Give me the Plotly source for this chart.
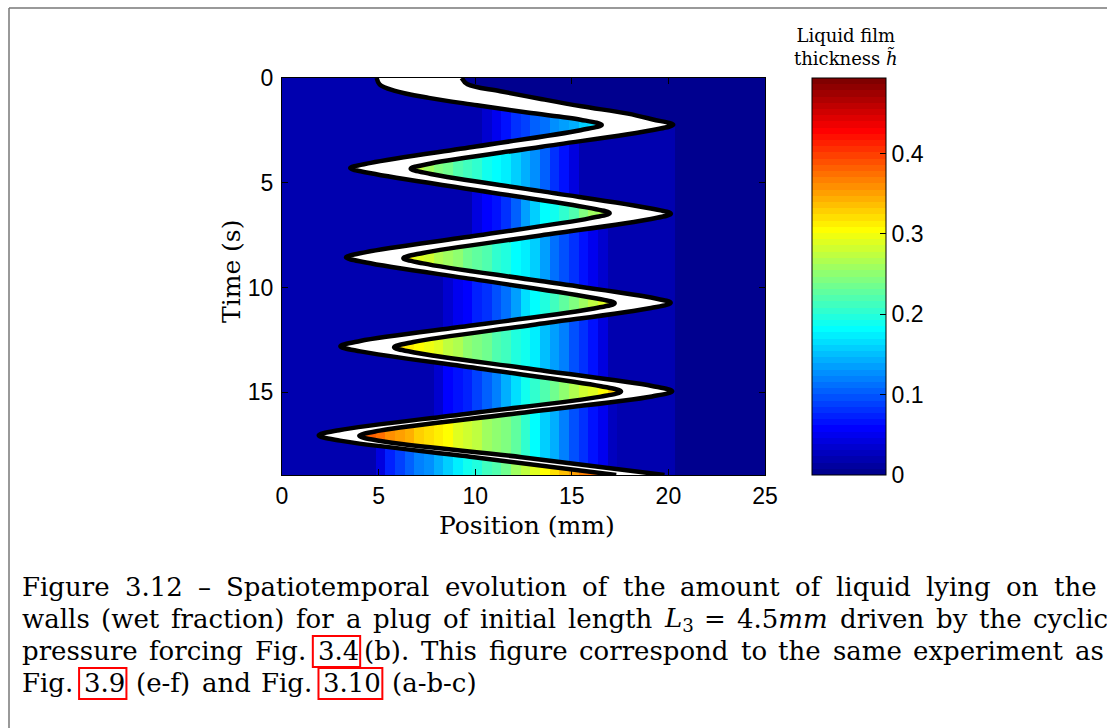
import numpy as np
import plotly.graph_objects as go

# ---------------- data ----------------
# Rear (left) meniscus trajectory: time (s), position (mm)
rear_t = [0.00, 0.30, 0.60, 0.95, 1.30, 1.65, 1.99, 2.24, 2.49, 3.27, 4.05, 4.30, 4.55, 5.38, 6.20, 6.45,
          6.70, 7.52, 8.31, 8.56, 8.81, 9.66, 10.50, 10.75, 11.00, 11.78, 12.55, 12.80, 13.05, 13.88,
          14.71, 14.96, 15.21, 16.01, 16.81, 17.06, 17.31, 18.10, 18.95]
rear_x = [4.90, 5.05, 5.80, 7.60, 10.10, 12.70, 15.45, 16.55, 15.45, 10.03, 4.60, 3.53, 4.60, 10.25, 15.90, 16.96,
          15.90, 10.10, 4.35, 3.31, 4.35, 10.30, 16.15, 17.22, 16.15, 10.10, 4.05, 3.02, 4.05, 10.30,
          16.50, 17.55, 16.50, 9.70, 2.95, 1.90, 3.00, 9.95, 17.30]
# Front (right) meniscus trajectory
front_t = [0.00, 0.30, 0.63, 1.00, 1.35, 1.70, 1.98, 2.23, 2.48, 3.28, 4.08, 4.33, 4.58, 5.40, 6.23, 6.48,
           6.73, 7.54, 8.35, 8.60, 8.85, 9.67, 10.48, 10.73, 10.98, 11.79, 12.60, 12.85, 13.10, 13.90,
           14.70, 14.95, 15.20, 16.01, 16.83, 17.08, 17.33, 18.10, 18.95]
front_x = [9.30, 9.60, 11.30, 13.40, 15.50, 17.90, 19.20, 20.25, 19.20, 13.45, 7.70, 6.66, 7.70, 13.40, 19.10, 20.13,
           19.10, 13.20, 7.30, 6.28, 7.30, 13.20, 19.10, 20.12, 19.10, 12.95, 6.80, 5.80, 6.85, 13.00,
           19.15, 20.20, 19.15, 12.10, 5.05, 4.00, 5.10, 12.40, 19.80]

# turning times that start a new deposit
rear_left_turns = [4.30, 8.56, 12.80, 17.06]
front_right_turns = [2.23, 6.48, 10.73, 14.95]

# film thickness columns (cell centres, mm)
x_cols = [0.1, 0.6, 1.1, 1.6, 2.1, 2.6, 3.1, 3.6, 4.1, 4.6, 5.1, 5.6, 6.1, 6.6, 7.1, 7.6, 8.1, 8.6, 9.1, 9.6,
          10.1, 10.6, 11.1, 11.6, 12.1, 12.6, 13.1, 13.6, 14.1, 14.6, 15.1, 15.6, 16.1, 16.6, 17.1, 17.6,
          18.1, 18.6, 19.1, 19.6, 20.1, 20.6, 21.1, 21.6, 22.1, 22.6, 23.1, 23.6, 24.1, 24.6, 25.1]
BG = 0.02
# film left behind the rear meniscus during each rightward stroke
rear_film_0 = [BG]*21 + [0.032, 0.050, 0.065, 0.080, 0.092, 0.102, 0.112, 0.124, 0.135, 0.145, 0.155, 0.165,
                         0.172] + [BG]*17
rear_film_1 = [BG]*20 + [0.040, 0.055, 0.068, 0.083, 0.105, 0.135, 0.158, 0.178, 0.192, 0.207, 0.223, 0.242,
                         0.257, 0.270, 0.280] + [BG]*16
rear_film_2 = [BG]*17 + [0.035, 0.048, 0.060, 0.070, 0.078, 0.093, 0.113, 0.138, 0.163, 0.182, 0.197, 0.212,
                         0.227, 0.242, 0.257, 0.272, 0.287, 0.298] + [BG]*16
rear_film_3 = [BG]*16 + [0.038, 0.055, 0.065, 0.075, 0.090, 0.105, 0.123, 0.145, 0.168, 0.187, 0.203, 0.218,
                         0.233, 0.248, 0.263, 0.278, 0.293, 0.308, 0.325, 0.340] + [BG]*15
rear_film_4 = [BG]*10 + [0.045, 0.070, 0.088, 0.103, 0.117, 0.130, 0.145, 0.162, 0.177, 0.188, 0.197, 0.210,
                         0.222, 0.238, 0.256, 0.275, 0.292, 0.305, 0.318, 0.333, 0.352, 0.365, 0.377, 0.387,
                         0.395, 0.400] + [BG]*15
# film left behind the front meniscus during each leftward stroke
front_film_0 = [0.0]*51
front_film_1 = [0.290]*14 + [0.272, 0.258, 0.245, 0.234, 0.223, 0.212, 0.201, 0.192, 0.183, 0.172, 0.160, 0.143,
                             0.125, 0.103, 0.083, 0.065, 0.045] + [BG]*10 + [0.0]*10
front_film_2 = [0.315]*13 + [0.305, 0.292, 0.280, 0.268, 0.257, 0.247, 0.238, 0.229, 0.219, 0.208, 0.197, 0.185,
                             0.172, 0.156, 0.135, 0.114, 0.095, 0.080, 0.065, 0.050, 0.032] + [BG]*7 + [0.0]*10
front_film_3 = [0.320]*12 + [0.318, 0.313, 0.305, 0.297, 0.288, 0.277, 0.265, 0.254, 0.243, 0.232, 0.221, 0.211,
                             0.200, 0.188, 0.171, 0.153, 0.135, 0.120, 0.100, 0.078, 0.063, 0.043] + [BG]*7 + [0.0]*10
front_film_4 = [0.395]*9 + [0.385, 0.372, 0.362, 0.352, 0.342, 0.330, 0.320, 0.312, 0.303, 0.293, 0.283, 0.272,
                            0.262, 0.251, 0.240, 0.224, 0.203, 0.182, 0.160, 0.140, 0.120, 0.100, 0.082, 0.065,
                            0.048, 0.030] + [BG]*6 + [0.0]*10

x_ticks = [0, 5, 10, 15, 20, 25]
t_ticks = [0, 5, 10, 15]
cbar_ticks = [0, 0.1, 0.2, 0.3, 0.4]
H_MAX = 0.494
T_END = 18.95

# caption: tokens (html, plain text for width, boxed reference, glued to previous token)
caption_lines = [
    [("Figure", "Figure", 0, 0), ("3.12", "3.12", 0, 0), ("\u2013", "\u2013", 0, 0),
     ("Spatiotemporal", "Spatiotemporal", 0, 0), ("evolution", "evolution", 0, 0), ("of", "of", 0, 0),
     ("the", "the", 0, 0), ("amount", "amount", 0, 0), ("of", "of", 0, 0), ("liquid", "liquid", 0, 0),
     ("lying", "lying", 0, 0), ("on", "on", 0, 0), ("the", "the", 0, 0)],
    [("walls", "walls", 0, 0), ("(wet", "(wet", 0, 0), ("fraction)", "fraction)", 0, 0), ("for", "for", 0, 0),
     ("a", "a", 0, 0), ("plug", "plug", 0, 0), ("of", "of", 0, 0), ("initial", "initial", 0, 0),
     ("length", "length", 0, 0), ("<i>L</i><sub>3</sub>", "L_", 0, 0), ("=", "=", 0, 0),
     ("4.5<i>mm</i>", "4.5mm", 0, 0), ("driven", "driven", 0, 0), ("by", "by", 0, 0), ("the", "the", 0, 0),
     ("cyclic", "cyclic", 0, 0)],
    [("pressure", "pressure", 0, 0), ("forcing", "forcing", 0, 0), ("Fig.", "Fig.", 0, 0), ("3.4", "3.4", 1, 0),
     ("(b).", "(b).", 0, 1), ("This", "This", 0, 0), ("figure", "figure", 0, 0),
     ("correspond", "correspond", 0, 0), ("to", "to", 0, 0), ("the", "the", 0, 0), ("same", "same", 0, 0),
     ("experiment", "experiment", 0, 0), ("as", "as", 0, 0)],
    [("Fig.", "Fig.", 0, 0), ("3.9", "3.9", 1, 0), ("(e-f)", "(e-f)", 0, 0), ("and", "and", 0, 0),
     ("Fig.", "Fig.", 0, 0), ("3.10", "3.10", 1, 0), ("(a-b-c)", "(a-b-c)", 0, 0)],
]
caption_y = [587, 619, 651, 683]
caption_last_x = [1052, 1031, 1073, None]   # justified lines: left edge of last word
CAP_SIZE = 26

# ---------------- build the field ----------------
rear_films = [rear_film_0, rear_film_1, rear_film_2, rear_film_3, rear_film_4]
front_films = [front_film_0, front_film_1, front_film_2, front_film_3, front_film_4]
t_rows = np.arange(0.025, T_END, 0.05)
xc = np.array(x_cols)
z = []
for t in t_rows:
    k = int(np.searchsorted(rear_left_turns, t, side="right"))
    m = int(np.searchsorted(front_right_turns, t, side="right"))
    mid = 0.5 * (np.interp(t, rear_t, rear_x) + np.interp(t, front_t, front_x))
    row = np.where(xc < mid, np.array(rear_films[k]), np.array(front_films[m]))
    z.append(row.tolist())


# MATLAB jet(64), stepped
def jet64():
    m = 64
    n = 16
    u = np.concatenate([np.arange(1, n + 1) / n, np.ones(n - 1), np.arange(n, 0, -1) / n])
    g = 8 + np.arange(1, len(u) + 1)
    r = g + n
    b = g - n
    J = np.zeros((m, 3))
    for idx, ui in zip(r, u):
        if idx <= m:
            J[idx - 1, 0] = ui
    for idx, ui in zip(g, u):
        if idx <= m:
            J[idx - 1, 1] = ui
    for idx, ui in zip(b, u):
        if idx >= 1:
            J[idx - 1, 2] = ui
    cs = []
    for i in range(m):
        c = "rgb(%d,%d,%d)" % tuple(int(round(v * 255)) for v in J[i])
        cs.append([i / m, c])
        cs.append([(i + 1) / m, c])
    return cs


fig = go.Figure()
fig.add_trace(go.Heatmap(
    x=x_cols, y=t_rows, z=z, zmin=0, zmax=H_MAX, colorscale=jet64(), zsmooth=False,
    colorbar=dict(x=(812 - 282) / 483, xanchor="left", y=0.5, yanchor="middle", len=1, lenmode="fraction",
                  thickness=74, thicknessmode="pixels", outlinecolor="black", outlinewidth=1,
                  tickvals=cbar_ticks, ticktext=["0", "0.1", "0.2", "0.3", "0.4"], ticks="inside",
                  ticklen=6, tickcolor="black", tickfont=dict(family="Liberation Sans", size=23, color="black"),
                  xpad=0, ypad=0),
    hoverinfo="skip"))
fig.add_trace(go.Scatter(x=rear_x, y=rear_t, mode="lines",
                         line=dict(color="black", width=4.5, shape="spline"), showlegend=False, hoverinfo="skip"))
fig.add_trace(go.Scatter(x=front_x, y=front_t, mode="lines", fill="tonexty", fillcolor="white",
                         line=dict(color="black", width=4.5, shape="spline"), showlegend=False, hoverinfo="skip"))

axis_common = dict(showline=True, linecolor="black", linewidth=1, mirror="allticks", ticks="inside", ticklen=6,
                   tickcolor="black", showgrid=False, zeroline=False,
                   tickfont=dict(family="Liberation Sans", size=23, color="black"))
fig.update_xaxes(range=[0, 25], tickvals=x_ticks, ticktext=[str(v) for v in x_ticks], ticklabelstandoff=0,
                 **axis_common)
fig.update_yaxes(range=[T_END, 0], tickvals=t_ticks, ticktext=[str(v) for v in t_ticks], ticklabelstandoff=3,
                 **axis_common)


def px(xp):
    return (xp - 282) / 483


def py(yp):
    return (475 - yp) / 397


# approximate DejaVu Serif advance widths (em) for caption layout
ADV = {' ': .318, '(': .390, ')': .390, '-': .338, '.': .318, '=': .838, '\u2013': .5, 'F': .687, 'L': .652,
       'S': .685, 'T': .672, '_': .445, 'a': .596, 'b': .640, 'c': .560, 'd': .640, 'e': .592, 'f': .370,
       'g': .640, 'h': .644, 'i': .320, 'j': .310, 'k': .606, 'l': .320, 'm': .948, 'n': .644, 'o': .602,
       'p': .640, 'q': .640, 'r': .478, 's': .513, 't': .402, 'u': .644, 'v': .565, 'w': .856, 'x': .564,
       'y': .565, 'z': .527}


def text_w(plain):
    return sum(ADV.get(ch, .636) for ch in plain) * CAP_SIZE


serif = "DejaVu Serif"
P = dict(xref="paper", yref="paper", showarrow=False)
ann = []
ann.append(dict(x=px(527), y=py(525), text="Position (mm)", xanchor="center", yanchor="middle",
                font=dict(family=serif, size=25, color="black"), **P))
ann.append(dict(x=px(231), y=py(272), text="Time (s)", textangle=-90, xanchor="center",
                yanchor="middle", font=dict(family=serif, size=25, color="black"), **P))
ann.append(dict(x=px(846), y=py(47), text="Liquid film<br>thickness <i>h\u0303</i>",
                xanchor="center", yanchor="middle", font=dict(family=serif, size=18, color="black"), **P))

shapes = [
    dict(type="line", xref="paper", yref="paper", x0=px(9), x1=px(1200), y0=py(8), y1=py(8),
         line=dict(color="#777777", width=1.5)),
    dict(type="line", xref="paper", yref="paper", x0=px(9), x1=px(9), y0=py(8), y1=py(800),
         line=dict(color="#777777", width=1.5)),
]

LEFT = 20
GLUE = 5
for tokens, yy, last_x in zip(caption_lines, caption_y, caption_last_x):
    widths = [text_w(p) for (_, p, _, _) in tokens]
    if last_x is None:
        space = 11.0
    else:
        fixed = sum(widths[:-1]) + sum(GLUE for tk in tokens[1:] if tk[3])
        n_gaps = sum(1 for tk in tokens[1:] if not tk[3])
        space = (last_x - LEFT - fixed) / n_gaps
    x = LEFT
    for i, ((html, plain, boxed, glued), w) in enumerate(zip(tokens, widths)):
        if i > 0:
            x += GLUE if glued else space
        ann.append(dict(x=px(x), y=py(yy), text=html, xanchor="left", yanchor="middle",
                        font=dict(family=serif, size=CAP_SIZE, color="black"), **P))
        if boxed:
            shapes.append(dict(type="rect", xref="paper", yref="paper", x0=px(x - 3), x1=px(x + w + 3),
                               y0=py(yy + 16), y1=py(yy - 15), line=dict(color="red", width=2)))
        x += w

fig.update_layout(width=1107, height=728, margin=dict(l=282, r=342, t=78, b=253),
                  paper_bgcolor="white", plot_bgcolor="white", annotations=ann, shapes=shapes,
                  showlegend=False)
fig.write_html("out.html", config={"displayModeBar": False},
               post_script="document.body.style.margin='0px';document.body.style.padding='0px';")
